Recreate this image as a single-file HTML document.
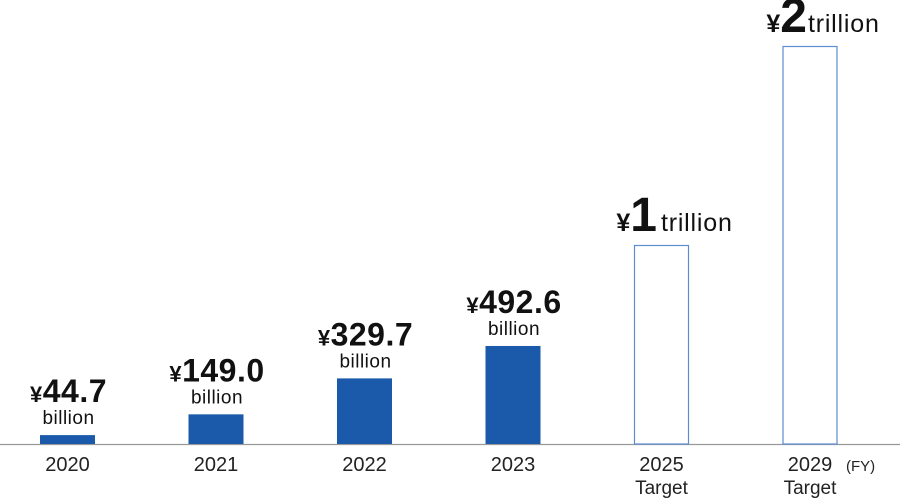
<!DOCTYPE html>
<html><head><meta charset="utf-8"><style>
body{margin:0;background:#fff;}
svg{display:block;font-family:"Liberation Sans",sans-serif;}
</style></head><body>
<svg id="chart" width="900" height="500">
<line x1="0" y1="444.5" x2="900" y2="444.5" stroke="#999" stroke-width="1.2"/>
<text x="846" y="471" font-size="15" fill="#222">(FY)</text>
</svg>
<script>
const categories=["2020","2021","2022","2023","2025","2029"];
const values=[44.7,149.0,329.7,492.6,1000,2000];
const isTarget=[false,false,false,false,true,true];
const valueLabels=["44.7","149.0","329.7","492.6","1","2"];
const svg=document.getElementById('chart');
const NS="http://www.w3.org/2000/svg";
const base=444, maxV=2000, plotH=398;
function y(v){return base-v/maxV*plotH;}
function xc(i){return 67.5+i*148.5;}
const bw=55;
function mk(tag,attrs,txt){const e=document.createElementNS(NS,tag);for(const k in attrs)e.setAttribute(k,attrs[k]);if(txt!==undefined)e.textContent=txt;svg.appendChild(e);return e;}
categories.forEach((c,i)=>{
  const top=y(values[i]);const cx=xc(i);
  let r;
  if(isTarget[i]){
    r=mk('rect',{x:cx-bw/2+0.5,y:top+0.5,width:bw-1,height:base-top-0.5,fill:'#fff',stroke:'#5b8dd0','stroke-width':1.2});
  }else{
    r=mk('rect',{x:cx-bw/2,y:top,width:bw,height:base-top,fill:'#1b5aaa'});
  }
  
  
  const yl=mk('text',{x:cx,y:471,'font-size':20,'text-anchor':'middle',fill:'#222'},c);
  
  
  if(isTarget[i]){
    const t=mk('text',{x:cx,y:494,'font-size':19,'text-anchor':'middle',fill:'#222'},'Target');
    
    
    const v=mk('text',{x:cx+13,y:top-14,'text-anchor':'middle',fill:'#111'});
    
    
    const a=document.createElementNS(NS,'tspan');a.setAttribute('font-size','25');a.setAttribute('font-weight','bold');a.textContent='¥';v.appendChild(a);
    const b=document.createElementNS(NS,'tspan');b.setAttribute('font-size','48');b.setAttribute('font-weight','bold');b.textContent=valueLabels[i];v.appendChild(b);
    const d=document.createElementNS(NS,'tspan');d.setAttribute('font-size','25');d.setAttribute('dx',i===4?'4':'1');d.setAttribute('letter-spacing','0.8');d.textContent='trillion';v.appendChild(d);
  }else{
    const v=mk('text',{x:cx+1,y:top-33,'text-anchor':'middle',fill:'#111','font-weight':'bold','letter-spacing':'0.5'});
    
    
    const a=document.createElementNS(NS,'tspan');a.setAttribute('font-size','22');a.textContent='¥';v.appendChild(a);
    const b=document.createElementNS(NS,'tspan');b.setAttribute('font-size','32');b.textContent=valueLabels[i];v.appendChild(b);
    const u=mk('text',{x:cx+1,y:top-11,'font-size':19,'text-anchor':'middle',fill:'#111','letter-spacing':'0.5'},'billion');
    
    
  }
});
</script>
</body></html>
